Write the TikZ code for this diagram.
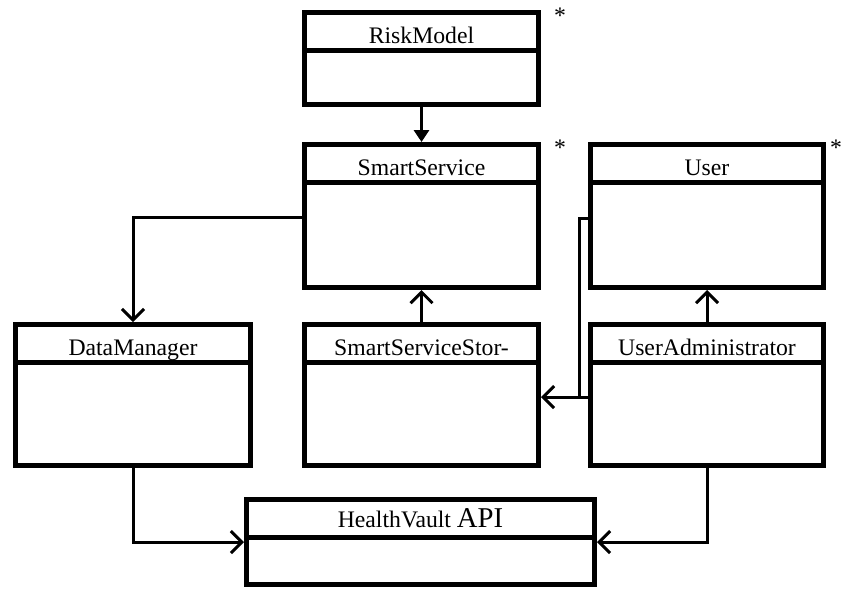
\documentclass[tikz,border=0pt]{standalone}
\usepackage{fontspec}
\setmainfont{Liberation Serif}
\usetikzlibrary{arrows.meta}

\begin{document}
\begin{tikzpicture}[x=1pt, y=-1pt,
        classbox/.style={draw, line width=5pt, anchor=north west, inner sep=0pt},
        classname/.style={anchor=base, font=\fontsize{23.7}{28}\selectfont},
        link/.style={line width=3pt, -{Straight Barb[length=11pt, width=22pt]}},
        mult/.style={anchor=base, font=\fontsize{23.7}{28}\selectfont}]
        \useasboundingbox (0,0) rectangle (843,590);
        % Classes
        \node[classbox, minimum width=234pt, minimum height=92pt] (rm) at (302,10) {};
        \node[classbox, minimum width=234pt, minimum height=143pt] (ss) at (302,142) {};
        \node[classbox, minimum width=233pt, minimum height=143pt] (user) at (588,142) {};
        \node[classbox, minimum width=235pt, minimum height=141pt] (dm) at (13,322) {};
        \node[classbox, minimum width=234pt, minimum height=141pt] (sss) at (302,322) {};
        \node[classbox, minimum width=233pt, minimum height=141pt] (ua) at (588,322) {};
        \node[classbox, minimum width=348pt, minimum height=85pt] (hv) at (244,497) {};
        % Header lines and names
        \foreach \c/\t in {rm/RiskModel, ss/SmartService, user/User, dm/DataManager,
                sss/SmartServiceStor-, ua/UserAdministrator} {
            \draw[line width=5pt] ([yshift=-40pt]\c.north west) -- ([yshift=-40pt]\c.north east);
            \node[classname] (\c name) at ([yshift=-33pt]\c.north) {\t};
        }
        \draw[line width=5pt] ([yshift=-40pt]hv.north west) -- ([yshift=-40pt]hv.north east);
        \node[classname] (hvname) at ([yshift=-30pt]hv.north) {HealthVault {\fontsize{28.7}{32}\selectfont API}};
        % Multiplicities
        \node[mult] (rmstar) at ([xshift=19pt, yshift=-13pt]rm.north east) {*};
        \node[mult] (ssstar) at ([xshift=19pt, yshift=-13pt]ss.north east) {*};
        \node[mult] (userstar) at ([xshift=10pt, yshift=-13pt]user.north east) {*};
        % Associations
        \draw[line width=3pt, -{Triangle[length=12pt, width=15pt]}] (rm.south) -- (ss.north);
        \draw[link] ([yshift=-75pt]ss.north west) -| (dm.north);
        \draw[link] (sss.north) -- (ss.south);
        \draw[link] (ua.north) -- (user.south);
        \coordinate (jn) at (579,397);
        \draw[line width=3pt] ([yshift=-75pt]ua.north west) -- (jn);
        \draw[link] ([yshift=-76pt]user.north west) -| (jn) -- ([yshift=-75pt]sss.north east);
        \draw[link] (dm.south) |- (hv.west);
        \draw[link] (ua.south) |- (hv.east);
\end{tikzpicture}
\end{document}
